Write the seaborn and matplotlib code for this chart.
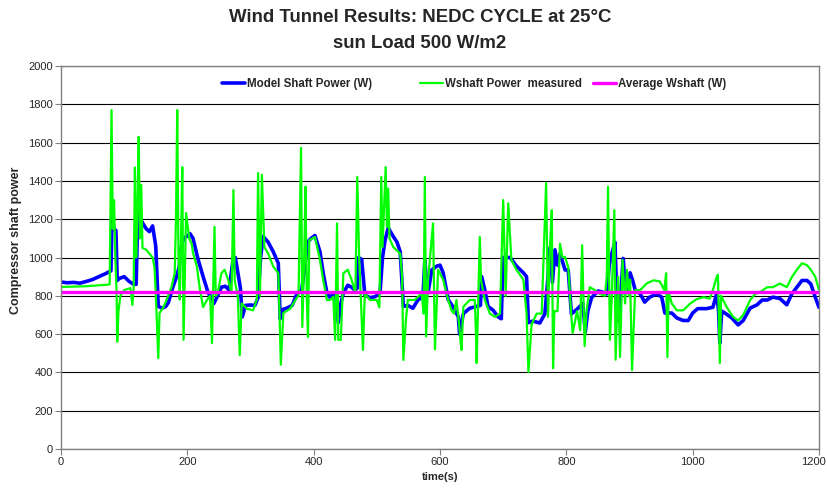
import numpy as np
import pandas as pd
import matplotlib
matplotlib.use("Agg")
import matplotlib.pyplot as plt
import matplotlib.transforms as mtransforms
import seaborn as sns

# ---- data ----
model_t = [0, 10, 20, 30, 40, 50, 60, 70, 76, 79, 81, 84, 87, 89, 92, 100, 108, 115, 119,
           121, 123, 126, 130, 135, 140, 145, 150, 154, 160, 166, 170, 177, 183, 187, 190,
           194, 199, 204, 209, 217, 225, 233, 238, 242, 248, 254, 260, 266, 272, 276, 280,
           284, 287, 292, 300, 307, 312, 316, 320, 328, 336, 344, 347, 352, 357, 366, 374,
           381, 386, 390, 396, 402, 410, 415, 421, 426, 431, 435, 439, 443, 447, 454, 460,
           465, 469, 471, 476, 481, 489, 497, 505, 509, 513, 518, 526, 532, 537, 542, 549,
           557, 565, 573, 576, 579, 581, 587, 595, 600, 605, 613, 621, 629, 631, 637, 647,
           658, 664, 666, 671, 676, 684, 692, 697, 700, 711, 721, 732, 737, 740, 747, 758,
           766, 771, 774, 778, 782, 786, 790, 798, 803, 808, 817, 826, 830, 834, 840, 850,
           857, 864, 868, 872, 877, 880, 882, 886, 890, 893, 896, 901, 905, 909, 917, 924,
           932, 943, 951, 956, 967, 975, 985, 993, 1000, 1008, 1022, 1032, 1038, 1041, 1043,
           1046, 1051, 1062, 1072, 1080, 1091, 1102, 1110, 1118, 1127, 1138, 1149, 1157,
           1165, 1173, 1181, 1187, 1194, 1200]
model_w = [872, 868, 870, 866, 875, 885, 900, 915, 925, 930, 1220, 1150, 1140, 880, 890, 900,
           875, 860, 860, 1150, 1230, 1200, 1175, 1150, 1135, 1165, 1060, 745, 735, 745, 765,
           845, 900, 950, 1050, 1100, 1110, 1125, 1100, 990, 900, 815, 790, 760, 800, 845,
           850, 830, 980, 1000, 920, 840, 690, 750, 752, 750, 790, 1000, 1110, 1080, 1030,
           970, 680, 730, 735, 750, 815, 830, 950, 1080, 1100, 1115, 1030, 920, 815, 790,
           810, 780, 660, 760, 815, 855, 845, 830, 840, 1000, 990, 805, 790, 795, 815, 1000,
           1090, 1155, 1110, 1080, 1030, 745, 750, 735, 778, 795, 985, 860, 815, 935, 955,
           960, 920, 780, 740, 690, 600, 707, 735, 745, 750, 900, 830, 745, 725, 690, 680,
           1000, 1000, 955, 920, 900, 660, 668, 658, 705, 900, 1050, 870, 1040, 960, 1020,
           935, 935, 705, 730, 760, 610, 720, 790, 825, 820, 810, 960, 1020, 1080, 780, 670,
           800, 995, 860, 820, 920, 880, 830, 810, 767, 793, 810, 793, 710, 710, 684, 671,
           671, 710, 733, 733, 740, 810, 720, 553, 720, 710, 684, 648, 671, 736, 753, 778,
           778, 793, 786, 753, 810, 845, 880, 880, 862, 793, 740]

meas_t = [0, 20, 40, 60, 73, 77, 79, 80, 82, 84, 86, 88, 89, 91, 94, 100, 110, 113, 115, 117,
          119, 121, 123, 125, 127, 129, 135, 140, 145, 148, 150, 152, 154, 156, 162, 167, 175,
          180, 182, 184, 186, 188, 190, 192, 194, 196, 198, 203, 207, 209, 215, 220, 225, 231,
          236, 239, 243, 245, 248, 254, 259, 265, 270, 273, 275, 280, 283, 286, 294, 304, 310,
          312, 315, 318, 322, 328, 336, 344, 346, 348, 352, 363, 371, 376, 380, 382, 385, 387,
          389, 391, 393, 402, 410, 415, 421, 426, 431, 434, 437, 439, 443, 447, 454, 460, 466,
          469, 472, 478, 481, 489, 500, 504, 507, 509, 514, 516, 518, 520, 526, 537, 540, 542,
          546, 549, 560, 571, 574, 576, 578, 581, 589, 592, 597, 605, 613, 618, 622, 626, 630,
          632, 634, 637, 647, 655, 657, 658, 663, 665, 671, 679, 687, 695, 700, 704, 708, 713,
          721, 732, 737, 740, 745, 753, 761, 768, 771, 774, 777, 779, 781, 786, 790, 794, 798,
          803, 808, 810, 817, 822, 825, 829, 832, 837, 845, 853, 861, 864, 866, 869, 872, 876,
          878, 882, 885, 889, 893, 896, 899, 901, 904, 909, 917, 927, 938, 948, 955, 958, 960,
          962, 967, 975, 985, 996, 1006, 1017, 1027, 1032, 1038, 1040, 1043, 1045, 1054, 1064,
          1072, 1080, 1091, 1099, 1107, 1118, 1127, 1138, 1149, 1157, 1165, 1173, 1181, 1187,
          1194, 1200]
meas_w = [846, 848, 850, 855, 858, 860, 1450, 1770, 1150, 1300, 1000, 820, 560, 720, 800, 830,
          840, 752, 840, 1470, 1000, 1250, 1630, 1100, 1380, 1050, 1040, 1020, 1000, 950, 814,
          650, 475, 710, 740, 778, 846, 918, 1200, 1770, 1000, 780, 1100, 1472, 570, 900, 1232,
          1100, 1070, 1024, 953, 832, 741, 778, 800, 553, 1160, 800, 814, 918, 936, 880, 814,
          1352, 880, 797, 490, 760, 733, 724, 780, 1441, 800, 1432, 1055, 1020, 953, 918, 700,
          440, 710, 733, 778, 800, 1572, 637, 1000, 1370, 800, 585, 1090, 1107, 987, 884, 778,
          778, 795, 570, 1178, 570, 570, 918, 936, 884, 814, 1420, 1000, 517, 814, 778, 778,
          740, 1420, 1055, 1472, 1160, 1360, 1100, 1055, 1020, 900, 465, 670, 778, 778, 814,
          707, 1420, 588, 880, 1178, 520, 936, 884, 778, 725, 707, 778, 660, 585, 517, 743,
          778, 778, 600, 449, 1107, 880, 778, 707, 690, 707, 1300, 800, 1283, 987, 936, 884,
          707, 402, 650, 707, 707, 1389, 690, 1050, 1247, 422, 720, 720, 1072, 1000, 1003, 950,
          690, 606, 720, 620, 1064, 537, 720, 845, 830, 810, 800, 900, 1370, 570, 800, 1247,
          466, 900, 480, 987, 760, 936, 800, 884, 412, 830, 830, 864, 881, 875, 830, 918, 480,
          820, 759, 724, 724, 759, 782, 793, 785, 830, 898, 910, 449, 800, 740, 690, 671, 700,
          778, 810, 820, 845, 845, 864, 845, 898, 936, 970, 960, 936, 900, 830]

avg_t = [0, 1200]
avg_w = [822, 822]

series_names = ["Model Shaft Power (W)", "Wshaft Power  measured", "Average Wshaft (W)"]
y_ticks = list(range(0, 2001, 200))
x_ticks = list(range(0, 1201, 200))

df = pd.concat([
    pd.DataFrame({"t": model_t, "w": model_w, "s": series_names[0]}),
    pd.DataFrame({"t": meas_t, "w": meas_w, "s": series_names[1]}),
    pd.DataFrame({"t": avg_t, "w": avg_w, "s": series_names[2]}),
], ignore_index=True)

sns.set_style("white")
plt.rcParams["font.family"] = ["Liberation Sans", "DejaVu Sans"]

W, H = 828, 492
fig = plt.figure(figsize=(W / 100, H / 100), dpi=100)
ax = fig.add_axes([61 / W, 43 / H, 758 / W, 383 / H])

palette = {series_names[0]: "#0000FF", series_names[1]: "#00FF00", series_names[2]: "#FF00FF"}
widths = {series_names[0]: 2.6, series_names[1]: 1.6, series_names[2]: 2.4}
for name in series_names:
    sns.lineplot(data=df[df["s"] == name], x="t", y="w", color=palette[name],
                 linewidth=widths[name], label=name, ax=ax, estimator=None, sort=False,
                 legend=False)

ax.set_xlim(0, 1200)
ax.set_ylim(0, 2000)
ax.set_xticks(x_ticks)
ax.set_yticks(y_ticks)
ax.tick_params(axis="both", labelsize=8, length=4, width=0.8, color="#808080",
               direction="out", pad=2, bottom=True, left=True)
ax.yaxis.grid(True, color="#000000", linewidth=0.8)
ax.set_axisbelow(True)
for sp in ax.spines.values():
    sp.set_color("#808080")
    sp.set_linewidth(1.0)

# keep the last x tick label inside the figure
last = ax.get_xticklabels()[-1]
last.set_transform(last.get_transform() + mtransforms.ScaledTranslation(-4 / 72, 0, fig.dpi_scale_trans))

ax.set_xlabel("time(s)", fontsize=8, fontweight="bold", labelpad=3)
ax.set_ylabel("Compressor shaft power", fontsize=9, fontweight="bold")
ax.yaxis.set_label_coords(-0.052, 0.546)

# legend entries placed like the reference (three separate single-entry legends)
lines = ax.get_lines()
leg_x = [222, 420, 593]
for i, name in enumerate(series_names):
    lg = ax.legend([lines[i]], [name], loc="center left",
                   bbox_to_anchor=(leg_x[i] / W, (H - 84) / H),
                   bbox_transform=fig.transFigure, frameon=False,
                   prop={"size": 8.3, "weight": "bold"}, handlelength=2.0,
                   handletextpad=0.15, borderpad=0, borderaxespad=0)
    if i < len(series_names) - 1:
        ax.add_artist(lg)

fig.text(0.507, 1 - 18 / H, "Wind Tunnel Results: NEDC CYCLE at 25°C", ha="center", va="center",
         fontsize=13.4, fontweight="bold")
fig.text(0.507, 1 - 44 / H, "sun Load 500 W/m2", ha="center", va="center",
         fontsize=13.4, fontweight="bold")

fig.savefig("out.png", dpi=100)
